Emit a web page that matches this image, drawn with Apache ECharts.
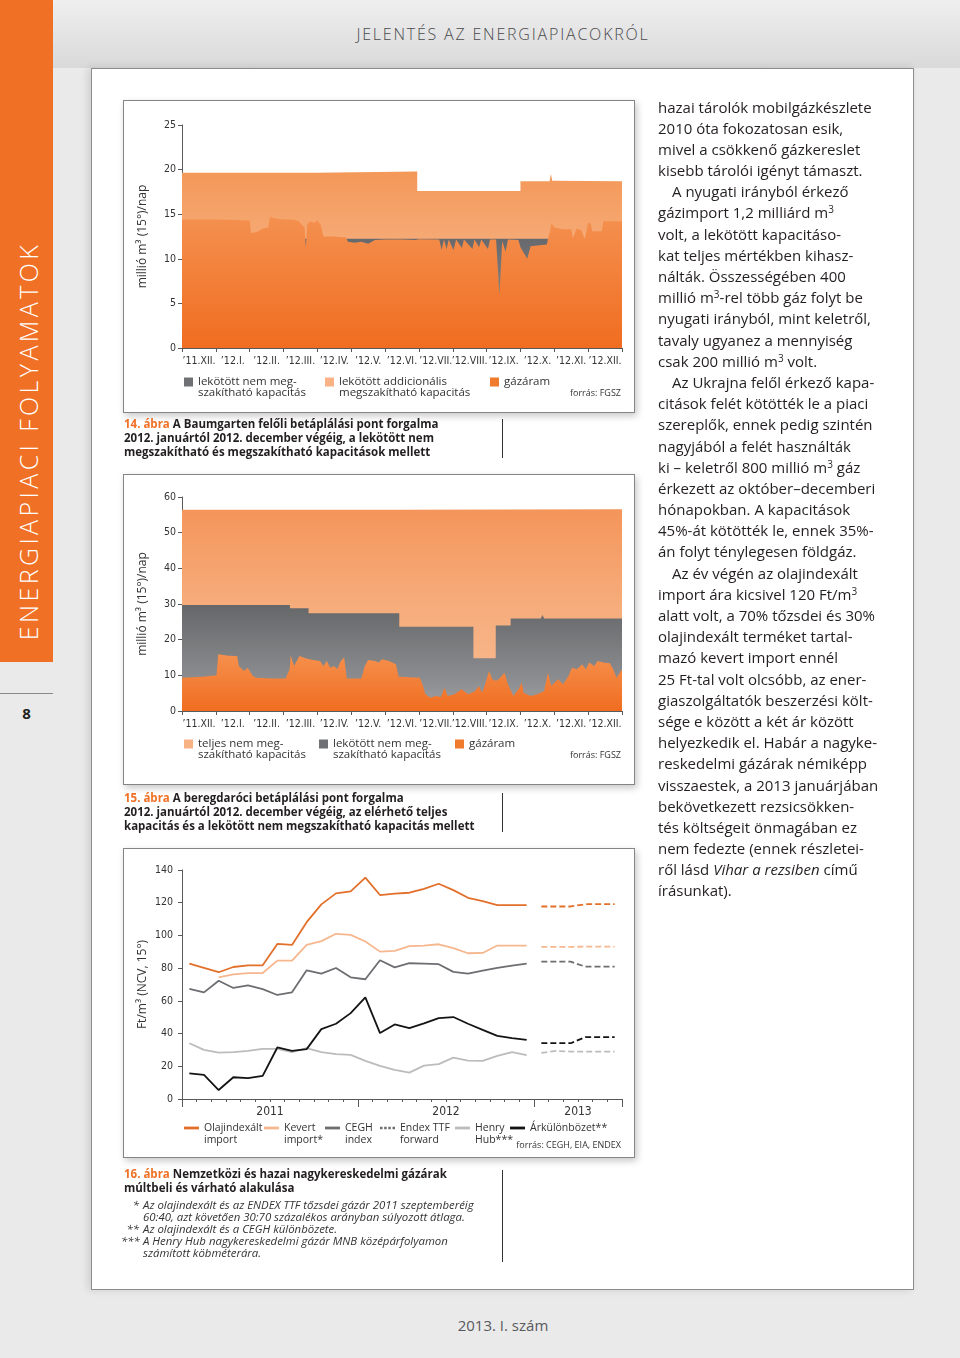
<!DOCTYPE html>
<html><head><meta charset="utf-8">
<script src="https://cdn.jsdelivr.net/npm/echarts/dist/echarts.min.js"></script>
<style>
html,body{margin:0;padding:0}
body{width:960px;height:1358px;position:relative;overflow:hidden;background:#EAEAEB;font-family:'Open Sans',sans-serif;color:#231F20}
.a{position:absolute}
#header{left:0;top:0;width:960px;height:68px;background:linear-gradient(#EFEFF0,#D9D9DA)}
#htitle{left:253px;top:24px;width:500px;text-align:center;font-size:16px;font-weight:300;letter-spacing:1.8px;color:#4A4A4C;line-height:20px}
#obar{left:0;top:0;width:53px;height:662px;background:#F07125}
#otext{left:-182px;top:426px;width:420px;height:30px;line-height:30px;text-align:center;color:#fff;font-size:25px;font-weight:300;letter-spacing:3.4px;transform:rotate(-90deg);white-space:nowrap}
#pline{left:0;top:693px;width:53px;height:1px;background:#8A8A8A}
#pnum{left:0;top:703px;width:53px;text-align:center;font-size:15px;font-weight:700;line-height:20px}
#frame{left:91px;top:68px;width:823px;height:1222px;box-sizing:border-box;background:#fff;border:1px solid #8C8C8C;box-shadow:-3px 0 8px rgba(0,0,0,0.12)}
.box{left:123px;width:512px;box-sizing:border-box;background:#fff;border:1px solid #858585;box-shadow:2px 3px 7px rgba(0,0,0,0.22)}
#chart{left:0;top:0;width:960px;height:1358px;z-index:5}
.cap{left:124px;font-size:11.5px;font-weight:700;line-height:14px;z-index:6;white-space:nowrap;color:#231F20}
.or{color:#F07125}
.sep{left:502px;width:1px;background:#333;z-index:6}
.fn{font-size:11.4px;font-style:italic;line-height:12px;color:#333;white-space:nowrap;z-index:6}
.fm{width:16px;text-align:right}
#col{left:658px;top:96.5px;font-size:15px;line-height:21.19px;white-space:nowrap;z-index:6;color:#231F20}
#col .ind{padding-left:14px}
#col sup{font-size:10px;line-height:0;vertical-align:5px}
#footer{left:303px;top:1315px;width:400px;text-align:center;font-size:15px;color:#58595B;line-height:20px}
</style></head>
<body>
<div class="a" id="header"></div>
<div class="a" id="htitle">JELENTÉS AZ ENERGIAPIACOKRÓL</div>
<div class="a" id="obar"></div>
<div class="a" id="otext">ENERGIAPIACI FOLYAMATOK</div>
<div class="a" id="pline"></div>
<div class="a" id="pnum">8</div>
<div class="a" id="frame"></div>
<div class="a box" style="top:100px;height:313px"></div>
<div class="a box" style="top:474px;height:311px"></div>
<div class="a box" style="top:848px;height:310px"></div>

<div class="a cap" style="top:417px"><span class="or">14. ábra</span> A Baumgarten felőli betáplálási pont forgalma<br>2012. januártól 2012. december végéig, a lekötött nem<br>megszakítható és megszakítható kapacitások mellett</div>
<div class="a sep" style="top:419px;height:39px"></div>
<div class="a cap" style="top:791px"><span class="or">15. ábra</span> A beregdaróci betáplálási pont forgalma<br>2012. januártól 2012. december végéig, az elérhető teljes<br>kapacitás és a lekötött nem megszakítható kapacitás mellett</div>
<div class="a sep" style="top:793px;height:39px"></div>
<div class="a cap" style="top:1167px;line-height:13.5px"><span class="or">16. ábra</span> Nemzetközi és hazai nagykereskedelmi gázárak<br>múltbeli és várható alakulása</div>
<div class="a sep" style="top:1170px;height:92px"></div>

<div class="a fn fm" style="left:123px;top:1199px">*</div>
<div class="a fn" style="left:143px;top:1199px">Az olajindexált és az ENDEX TTF tőzsdei gázár 2011 szeptemberéig</div>
<div class="a fn" style="left:143px;top:1211px">60:40, azt követően 30:70 százalékos arányban súlyozott átlaga.</div>
<div class="a fn fm" style="left:123px;top:1223px">**</div>
<div class="a fn" style="left:143px;top:1223px">Az olajindexált és a CEGH különbözete.</div>
<div class="a fn fm" style="left:121px;top:1235px">***</div>
<div class="a fn" style="left:143px;top:1235px">A Henry Hub nagykereskedelmi gázár MNB középárfolyamon</div>
<div class="a fn" style="left:143px;top:1247px">számított köbméterára.</div>

<div class="a" id="col">
<div>hazai tárolók mobilgázkészlete</div>
<div>2010 óta fokozatosan esik,</div>
<div>mivel a csökkenő gázkereslet</div>
<div>kisebb tárolói igényt támaszt.</div>
<div class="ind">A nyugati irányból érkező</div>
<div>gázimport 1,2 milliárd m<sup>3</sup></div>
<div>volt, a lekötött kapacitáso-</div>
<div>kat teljes mértékben kihasz-</div>
<div>nálták. Összességében 400</div>
<div>millió m<sup>3</sup>-rel több gáz folyt be</div>
<div>nyugati irányból, mint keletről,</div>
<div>tavaly ugyanez a mennyiség</div>
<div>csak 200 millió m<sup>3</sup> volt.</div>
<div class="ind">Az Ukrajna felől érkező kapa-</div>
<div>citások felét kötötték le a piaci</div>
<div>szereplők, ennek pedig szintén</div>
<div>nagyjából a felét használták</div>
<div>ki – keletről 800 millió m<sup>3</sup> gáz</div>
<div>érkezett az október–decemberi</div>
<div>hónapokban. A kapacitások</div>
<div>45%-át kötötték le, ennek 35%-</div>
<div>án folyt ténylegesen földgáz.</div>
<div class="ind">Az év végén az olajindexált</div>
<div>import ára kicsivel 120 Ft/m<sup>3</sup></div>
<div>alatt volt, a 70% tőzsdei és 30%</div>
<div>olajindexált terméket tartal-</div>
<div>mazó kevert import ennél</div>
<div>25 Ft-tal volt olcsóbb, az ener-</div>
<div>giaszolgáltatók beszerzési költ-</div>
<div>sége e között a két ár között</div>
<div>helyezkedik el. Habár a nagyke-</div>
<div>reskedelmi gázárak némiképp</div>
<div>visszaestek, a 2013 januárjában</div>
<div>bekövetkezett rezsicsökken-</div>
<div>tés költségeit önmagában ez</div>
<div>nem fedezte (ennek részletei-</div>
<div>ről lásd <i>Vihar a rezsiben</i> című</div>
<div>írásunkat).</div>
</div>
<div class="a" id="footer">2013. I. szám</div>
<div class="a" id="chart"></div>
<script>
// ---------- DATA ----------
const monthLabels = ['’11.XII.','’12.I.','’12.II.','’12.III.','’12.IV.','’12.V.','’12.VI.','’12.VII.','’12.VIII.','’12.IX.','’12.X.','’12.XI.','’12.XII.'];
const yearLabels = ['2011','2012','2013'];
const yearLabelPos = [6, 18, 27];

// Chart 14 (Baumgarten) — [month position, value]
const baumTotal = [[0,19.65],[3.96,19.65],[3.96,19.8],[6.95,19.8],[6.95,17.6],[10.0,17.6],[10.0,18.7],[10.86,18.7],[10.9,19.5],[10.94,18.75],[13,18.7]];
const baumFirm = [[0,12.25],[13,12.25]];
const baumFlow = [[0,14.4],[1.0,14.4],[1.6,14.35],[2.0,14.3],[2.04,12.9],[2.2,13.0],[2.4,13.4],[2.55,13.5],[2.6,14.7],[2.8,14.5],[3.0,14.4],[3.3,14.4],[3.45,14.2],[3.55,13.8],[3.62,13.6],[3.66,11.3],[3.7,13.9],[3.8,14.2],[3.9,14.0],[4.0,14.3],[4.1,13.8],[4.18,12.5],[4.5,12.5],[4.85,12.4],[4.9,11.9],[5.1,11.8],[5.3,11.9],[5.5,11.7],[5.7,12.1],[6.0,12.15],[6.5,12.15],[6.9,12.1],[7.0,12.2],[7.6,12.15],[7.67,11.0],[7.74,12.15],[7.82,11.1],[7.88,12.15],[8.02,11.0],[8.1,12.15],[8.27,11.2],[8.33,12.15],[8.58,11.1],[8.64,12.15],[8.78,11.3],[8.84,12.15],[9.04,11.1],[9.1,12.15],[9.28,12.15],[9.38,5.9],[9.46,12.0],[9.56,10.8],[9.63,12.15],[9.94,12.1],[10.0,11.3],[10.2,10.0],[10.3,11.4],[10.5,11.5],[10.78,11.6],[10.82,12.4],[10.87,13.0],[10.92,14.0],[11.0,13.5],[11.25,13.3],[11.5,13.3],[11.55,12.3],[11.66,13.4],[11.8,13.2],[11.9,12.2],[12.0,14.1],[12.08,13.9],[12.12,13.1],[12.4,13.1],[12.45,14.2],[13,14.2]];

// Chart 15 (Beregdaróc)
const bereTotal = [[0,56.4],[6.42,56.4],[6.42,56.6],[13,56.6]];
const bereFirm = [[0,29.7],[3.19,29.7],[3.19,28.8],[3.74,28.8],[3.74,27.4],[6.42,27.4],[6.42,23.6],[8.61,23.6],[8.61,14.8],[9.27,14.8],[9.27,24.0],[9.71,24.0],[9.71,25.9],[10.6,25.9],[10.65,26.9],[10.7,25.9],[13,25.9]];
const bereFlow = [[0,9.3],[0.61,9.6],[1.02,10.0],[1.07,15.9],[1.38,15.5],[1.63,15.4],[1.68,12.6],[1.83,11.2],[1.94,12.1],[2.09,9.8],[2.19,9.3],[2.65,9.1],[3.06,9.1],[3.18,11.7],[3.21,15.6],[3.31,12.6],[3.47,15.4],[3.67,14.7],[3.87,14.3],[4.08,14.0],[4.18,12.6],[4.28,14.0],[4.38,12.1],[4.49,12.6],[4.59,11.7],[4.69,14.0],[4.79,15.0],[4.87,9.1],[5.30,9.1],[5.40,12.6],[5.50,14.3],[5.71,14.0],[5.81,13.6],[5.91,14.5],[6.12,14.0],[6.32,13.1],[6.40,9.6],[7.03,9.3],[7.12,7.0],[7.19,4.7],[7.34,3.7],[7.49,4.2],[7.65,3.9],[7.75,6.5],[7.85,4.2],[8.05,4.7],[8.26,6.1],[8.46,4.7],[8.56,5.1],[8.66,5.6],[8.77,7.0],[8.87,5.1],[8.97,7.9],[9.07,11.2],[9.17,8.9],[9.28,8.4],[9.38,9.1],[9.53,10.7],[9.63,7.5],[9.79,4.2],[9.94,6.1],[10.04,7.9],[10.09,5.1],[10.30,4.2],[10.50,4.7],[10.70,5.6],[10.81,10.7],[10.91,7.0],[11.11,8.9],[11.26,7.5],[11.42,9.8],[11.52,12.1],[11.67,11.7],[11.82,13.1],[11.93,11.7],[12.03,13.6],[12.18,12.6],[12.28,14.0],[12.44,13.6],[12.64,13.4],[12.74,11.7],[12.84,9.3],[13.0,11.7]];

// Chart 16 — monthly values Jan 2011 – Dec 2012, forecast Jan–Jun 2013
const olaj = [82.8,80.2,77.5,80.7,81.7,81.7,94.8,94.2,108.1,119,125.7,126.9,135.3,124.7,125.5,126.1,128.5,131.6,127.7,123,121,118.5,118.5,118.5];
const kevert = [null,null,74.4,76.2,77,77,84.6,84.6,94.2,96.5,101,100.3,96.3,90.1,90.5,93.4,93.8,94.6,92.2,89.1,89.3,93.8,93.8,93.8];
const cegh = [67.4,65.2,72.3,67.9,69.5,67.2,63.6,65.2,78.7,76.6,80.1,74.4,73.2,84.8,80.5,83,82.8,82.4,77.7,76.6,78.5,80.1,81.5,82.8];
const henry = [34.1,30,28.4,28.6,29.4,30.7,30.7,28.6,31.1,28.6,27.4,27,23.3,20.2,17.8,16.1,20.4,21.3,25.3,23.5,23.3,26.4,28.6,26.8];
const arkul = [15.7,14.7,5.5,13.3,12.7,14.1,31.5,29.4,30.5,42.7,46,52.5,62.1,40.3,45.6,43.3,46.2,49.5,50.1,46,42.3,38.6,37.2,36.2];
const olajF = [117.7,117.7,117.7,119.1,119.1,119.1];
const kevertF = [93,93,93,93.2,93.2,93.2];
const ceghF = [84,84,84,80.9,80.9,80.9];
const henryF = [28.2,29.4,29,29,29,29];
const arkulF = [34.1,34.1,34.1,37.8,37.8,37.8];

// ---------- BUILD ----------
const NARROW = "'Liberation Sans Narrow','DejaVu Sans Condensed','Roboto',sans-serif";
const TXT = "'Open Sans',sans-serif";
const AX = '#58595B';
const hist = a => a.map((v,i)=>[i+0.5, v]);
const fcst = a => a.map((v,i)=>[24.5+i, v]);
const G = (stops) => new echarts.graphic.LinearGradient(0,0,0,1, stops.map(s=>({offset:s[0],color:s[1]})));

const chart = echarts.init(document.getElementById('chart'), null, {renderer:'canvas'});

function monthX(grid){
  return [
    {gridIndex:grid,type:'value',min:0,max:13,interval:1,position:'bottom',axisLine:{lineStyle:{color:AX,width:1}},axisTick:{length:4,lineStyle:{color:AX}},axisLabel:{show:false},splitLine:{show:false}},
    {gridIndex:grid,type:'category',data:monthLabels,position:'bottom',axisLine:{show:false},axisTick:{show:false},axisLabel:{interval:0,margin:8,fontFamily:NARROW,fontSize:10.5,color:'#333'}}
  ];
}
function yAx(grid,max,interval,name,margin,gap){
  return {gridIndex:grid,type:'value',min:0,max:max,interval:interval,
    axisLine:{show:true,lineStyle:{color:AX}},axisTick:{show:true,length:4,lineStyle:{color:AX}},
    axisLabel:{margin:margin,fontFamily:NARROW,fontSize:10.5,color:'#333'},splitLine:{show:false},
    name:name,nameLocation:'middle',nameGap:gap,nameTextStyle:{fontFamily:TXT,fontSize:12,color:'#333'}};
}
function area(name,xi,yi,data,solid,stops,z){
  return {type:'line',name:name,xAxisIndex:xi,yAxisIndex:yi,data:data,symbol:'none',silent:true,z:z,
    color:solid,lineStyle:{width:0},areaStyle:{color:G(stops),opacity:1}};
}
function line(name,data,color,dash){
  return {type:'line',name:name,xAxisIndex:4,yAxisIndex:2,data:data,symbol:'none',silent:true,connectNulls:false,
    color:color,lineStyle:{color:color,width:1.8,type:dash?[6,3]:'solid'}};
}
function sqLegend(name,color,left,top,multi){
  return {data:[{name:name,itemStyle:{color:color,borderWidth:0}}],left:left,top:top,padding:0,icon:'rect',itemWidth:9,itemHeight:9,selectedMode:false,
    formatter: multi ? '\n{name}' : '{name}',
    textStyle:{fontFamily:TXT,fontSize:11.5,color:'#333',lineHeight:11}};
}
const SOLID_ICON = 'path://M0,0H16V3H0Z';
const DASH_ICON = 'path://M0,0H3V3H0Z M5,0H8V3H5Z M10,0H13V3H10Z M15,0H18V3H15Z';
function lnLegend(name,color,icon,left,top,multi){
  return {data:[{name:name,icon:icon,itemStyle:{color:color,borderWidth:0}}],left:left,top:top,padding:0,itemWidth:15,itemHeight:3,selectedMode:false,
    formatter: multi ? '\n{name}' : '{name}',
    textStyle:{fontFamily:TXT,fontSize:10.5,color:'#333',lineHeight:12}};
}

const N14g = 'lekötött nem meg-\nszakítható kapacitás';
const N14a = 'lekötött addicionális\nmegszakítható kapacitás';
const N15t = 'teljes nem meg-\nszakítható kapacitás';
const N15g = 'lekötött nem meg-\nszakítható kapacitás ';

const option = {
  animation:false,
  grid:[
    {left:182,top:125,width:440,height:223},
    {left:182,top:497,width:440,height:214},
    {left:182,top:870,width:440,height:229}
  ],
  xAxis:[
    ...monthX(0), ...monthX(1),
    {gridIndex:2,type:'value',min:0,max:30,interval:1,position:'bottom',axisLine:{lineStyle:{color:AX}},axisTick:{length:3,lineStyle:{color:AX}},splitLine:{show:false},
      axisLabel:{margin:7,fontFamily:NARROW,fontSize:12,color:'#333',formatter:v=>{const k=yearLabelPos.indexOf(v);return k>=0?yearLabels[k]:'';}}},
    {gridIndex:2,type:'value',min:0,max:30,interval:12,position:'bottom',axisLine:{show:false},axisTick:{length:8,lineStyle:{color:AX}},axisLabel:{show:false},splitLine:{show:false}}
  ],
  yAxis:[
    yAx(0,25,5,'millió m³ (15°)/nap',6,33),
    yAx(1,60,10,'millió m³ (15°)/nap',6,33),
    yAx(2,140,20,'Ft/m³ (NCV, 15°)',9,33)
  ],
  legend:[
    sqLegend(N14g,'#6F7073',184,365,true),
    sqLegend(N14a,'#F8B285',325,365,true),
    sqLegend('gázáram','#F07A2D',490,376,false),
    sqLegend(N15t,'#F8B285',184,727,true),
    sqLegend(N15g,'#6F7073',319,727,true),
    sqLegend('gázáram','#F07A2D',455,738,false),
    lnLegend('Olajindexált\nimport','#E2702B',SOLID_ICON,184,1110,true),
    lnLegend('Kevert\nimport*','#F6B78E',SOLID_ICON,264,1110,true),
    lnLegend('CEGH\nindex','#6D6E71',SOLID_ICON,325,1110,true),
    lnLegend('Endex TTF\nforward','#6D6E71',DASH_ICON,380,1110,true),
    lnLegend('Henry\nHub***','#BBBCBE',SOLID_ICON,455,1110,true),
    lnLegend('Árkülönbözet**','#141414',SOLID_ICON,510,1122,false)
  ],
  graphic:[
    {type:'text',x:621,y:393,z:10,style:{text:'forrás: FGSZ',align:'right',verticalAlign:'middle',font:'9px '+TXT,fill:'#333'}},
    {type:'text',x:621,y:755,z:10,style:{text:'forrás: FGSZ',align:'right',verticalAlign:'middle',font:'9px '+TXT,fill:'#333'}},
    {type:'text',x:621,y:1145,z:10,style:{text:'forrás: CEGH, EIA, ENDEX',align:'right',verticalAlign:'middle',font:'9px '+TXT,fill:'#333'}}
  ],
  series:[
    area(N14a,0,0,baumTotal,'#F8B285',[[0,'#F39858'],[0.4,'#F6AA76'],[1,'#F8B88C']],1),
    area(N14g,0,0,baumFirm,'#6F7073',[[0,'#68696C'],[1,'#9A9B9D']],2),
    area('gázáram',0,0,baumFlow,'#F07A2D',[[0,'#F4904F'],[1,'#F06D20']],3),
    area(N15t,2,1,bereTotal,'#F8B285',[[0,'#F4955A'],[0.47,'#F6AC7B'],[1,'#F8BC94']],1),
    area(N15g,2,1,bereFirm,'#6F7073',[[0,'#666769'],[0.7,'#8C8D90'],[1,'#A0A1A3']],2),
    area('gázáram',2,1,bereFlow,'#F07A2D',[[0,'#F5904D'],[1,'#F06D20']],3),
    line('Olajindexált\nimport',hist(olaj),'#E2702B'),
    line('Kevert\nimport*',hist(kevert),'#F6B78E'),
    line('CEGH\nindex',hist(cegh),'#6D6E71'),
    {type:'line',name:'Endex TTF\nforward',xAxisIndex:4,yAxisIndex:2,data:[],symbol:'none',color:'#6D6E71',lineStyle:{color:'#6D6E71',width:1.8,type:[3,2]}},
    line('Henry\nHub***',hist(henry),'#BBBCBE'),
    line('Árkülönbözet**',hist(arkul),'#141414'),
    line('olajF',fcst(olajF),'#E2702B',true),
    line('kevertF',fcst(kevertF),'#F6B78E',true),
    line('ceghF',fcst(ceghF),'#6D6E71',true),
    line('henryF',fcst(henryF),'#BBBCBE',true),
    line('arkulF',fcst(arkulF),'#141414',true)
  ]
};
chart.setOption(option);
</script>
</body></html>
